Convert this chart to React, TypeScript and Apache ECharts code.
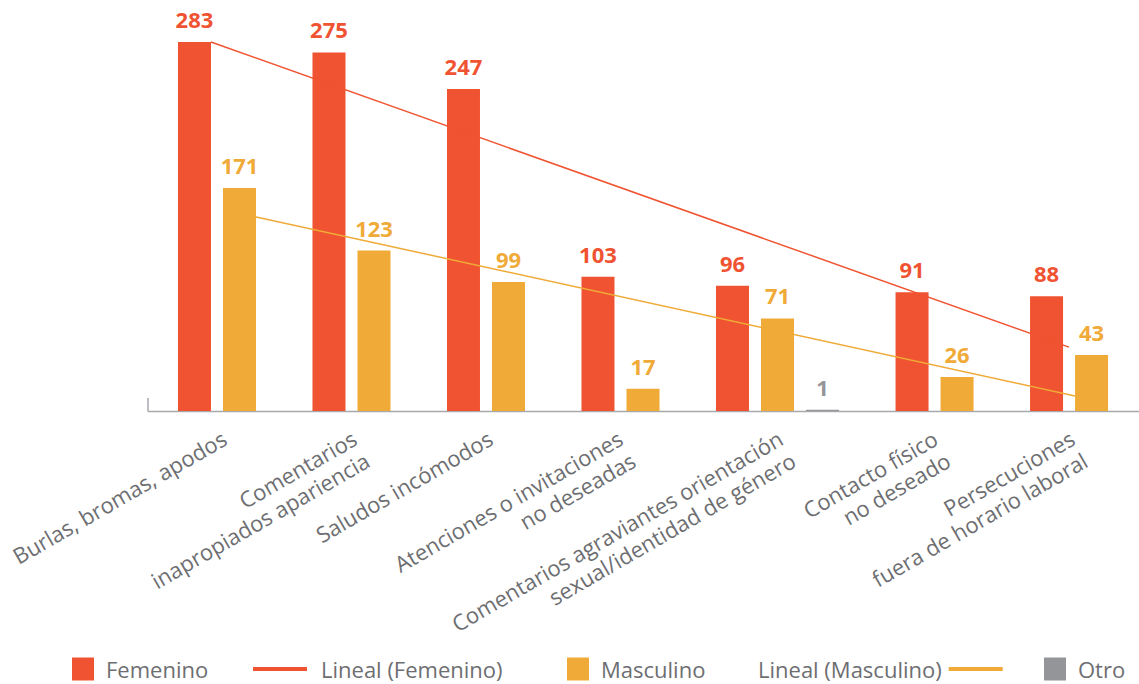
import React, { useEffect, useRef } from "react";
import * as echarts from "echarts";

const categories = [
  "Burlas, bromas, apodos",
  "Comentarios\ninapropiados apariencia",
  "Saludos incómodos",
  "Atenciones o invitaciones\nno deseadas",
  "Comentarios agraviantes orientación\nsexual/identidad de género",
  "Contacto físico\nno deseado",
  "Persecuciones\nfuera de horario laboral",
];
// position of each category group along the x axis (in category units)
const categoryPositions = [0.5, 1.5, 2.5, 3.5, 4.5, 5.835, 6.835];
// where each category's label is anchored (in the same units)
const labelPositions = [0.34, 1.307, 2.318, 3.284, 4.474, 5.626, 6.645];
const femenino = [283, 275, 247, 103, 96, 91, 88];
const masculino = [171, 123, 99, 17, 71, 26, 43];
const otro: (number | null)[] = [null, null, null, null, 1, null, null];
// trend line endpoints: [position in category units, value]
const linealFemenino = [
  [0.288, 283],
  [6.667, 49],
];
const linealMasculino = [
  [0.615, 149],
  [6.712, 11.5],
];

const RED = "#F05331";
const ORANGE = "#F0AA37";
const GRAY = "#939598";
const TEXT = "#6D6E71";
const AXIS = "#A7A9AC";
const FONT = "'Open Sans', 'Noto Sans', sans-serif";

const pair = (vals: (number | null)[]) =>
  vals
    .map((v, i) => (v == null ? null : [categoryPositions[i], v]))
    .filter((d) => d != null);

export default function App() {
  const ref = useRef<HTMLDivElement>(null);
  useEffect(() => {
    if (!ref.current) return;
    const chart = echarts.init(ref.current, undefined, { renderer: "svg" });
    const labelStyle = (color: string) => ({
      show: true,
      position: "top" as const,
      distance: 12,
      color,
      fontFamily: FONT,
      fontWeight: "bold" as const,
      fontSize: 22,
    });
    const legendBase = {
      top: 657.5,
      padding: 0,
      itemHeight: 23,
      itemWidth: 22,
      icon: "rect",
      textStyle: {
        color: TEXT,
        fontFamily: FONT,
        fontSize: 22,
        lineHeight: 22,
        padding: [0, 0, 0, 7],
      },
      selectedMode: false,
    };
    chart.setOption({
      animation: false,
      textStyle: { fontFamily: FONT },
      grid: { left: 172.25, width: 941.5, top: 19.8, height: 391.2 },
      xAxis: {
        type: "value",
        min: 0,
        max: 7,
        axisLine: { show: false },
        axisTick: { show: false },
        splitLine: { show: false },
        axisLabel: {
          customValues: labelPositions,
          formatter: (v: number) => {
            let best = 0;
            labelPositions.forEach((p, i) => {
              if (Math.abs(p - v) < Math.abs(labelPositions[best] - v)) best = i;
            });
            return categories[best];
          },
          rotate: 30,
          margin: 14,
          align: "right",
          verticalAlign: "top",
          color: TEXT,
          fontFamily: FONT,
          fontSize: 22,
          lineHeight: 25.5,
        },
      },
      yAxis: { type: "value", min: 0, max: 300, show: false },
      legend: [
        { ...legendBase, left: 72, data: ["Femenino"] },
        {
          ...legendBase,
          left: 253,
          top: 658,
          itemWidth: 54,
          itemHeight: 4,
          textStyle: { ...legendBase.textStyle, padding: [0, 0, 0, 9] },
          data: ["Lineal (Femenino)"],
        },
        { ...legendBase, left: 567, data: ["Masculino"] },
        {
          ...legendBase,
          left: 758,
          top: 658,
          align: "right",
          itemWidth: 54,
          itemHeight: 4,
          textStyle: { ...legendBase.textStyle, padding: [0, 2, 0, 0] },
          data: ["Lineal (Masculino)"],
        },
        { ...legendBase, left: 1044, data: ["Otro"] },
      ],
      graphic: [
        {
          type: "line",
          shape: { x1: 148, y1: 411.5, x2: 1139, y2: 411.5 },
          style: { stroke: AXIS, lineWidth: 1.5 },
        },
        {
          type: "line",
          shape: { x1: 148, y1: 398, x2: 148, y2: 411.5 },
          style: { stroke: AXIS, lineWidth: 1.5 },
        },
      ],
      series: [
        {
          name: "Femenino",
          type: "bar",
          data: pair(femenino),
          barWidth: 33,
          barGap: "36.4%",
          itemStyle: { color: RED },
          label: labelStyle(RED),
        },
        {
          name: "Masculino",
          type: "bar",
          data: pair(masculino),
          barWidth: 33,
          barGap: "36.4%",
          itemStyle: { color: ORANGE },
          label: labelStyle(ORANGE),
        },
        {
          name: "Otro",
          type: "bar",
          data: pair(otro),
          barWidth: 33,
          barGap: "36.4%",
          itemStyle: { color: GRAY },
          label: labelStyle(GRAY),
        },
        {
          name: "Lineal (Femenino)",
          type: "line",
          data: linealFemenino,
          symbol: "none",
          lineStyle: { color: RED, width: 1.5 },
          itemStyle: { color: RED },
        },
        {
          name: "Lineal (Masculino)",
          type: "line",
          data: linealMasculino,
          symbol: "none",
          lineStyle: { color: ORANGE, width: 1.5 },
          itemStyle: { color: ORANGE },
        },
      ],
    });
    return () => chart.dispose();
  }, []);
  return (
    <div
      ref={ref}
      style={{ position: "absolute", left: 0, top: 0, width: 1139, height: 684 }}
    />
  );
}
